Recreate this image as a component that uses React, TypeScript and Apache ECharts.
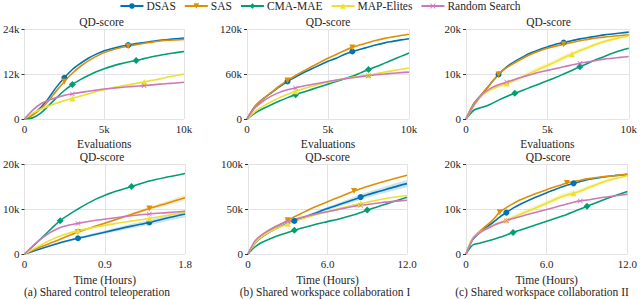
import React, { useEffect, useRef } from 'react';
import * as echarts from 'echarts';

const NAMES = ['DSAS', 'SAS', 'CMA-MAE', 'MAP-Elites', 'Random Search'];
const COLORS = ['#0173b2', '#de8f05', '#029e73', '#ece133', '#cc78bc'];
const BAND_COLORS = ['rgba(1,115,178,0.2)', 'rgba(222,143,5,0.2)', 'rgba(2,158,115,0.2)', 'rgba(236,225,51,0.28)', 'rgba(204,120,188,0.2)'];
const SYMBOLS = [
  'circle',
  'path://M0,0L10,0L5,9Z',
  'path://M5,0L10,5L5,10L0,5Z',
  'triangle',
  'path://M1,0L5,4L9,0L10,1L6,5L10,9L9,10L5,6L1,10L0,9L4,5L0,1Z',
];
const SYMBOL_SIZES = [6, 6, 7, 6, 5];

// ---------- Top row: x in thousands of evaluations ----------
const evalsK = [0, 0.5, 1, 1.5, 2, 2.5, 3, 3.5, 4, 4.5, 5, 5.5, 6, 6.5, 7, 7.5, 8, 8.5, 9, 9.5, 10];

// (a) top, QD-score in k
const dsasA1 = [0, 1.2, 3.0, 5.5, 8.5, 11.0, 13.2, 14.8, 16.2, 17.3, 18.2, 18.8, 19.3, 19.7, 20.1, 20.4, 20.7, 21.0, 21.2, 21.4, 21.6];
const sasA1 = [0, 1.0, 2.6, 4.8, 7.5, 10.0, 12.2, 14.0, 15.5, 16.7, 17.7, 18.4, 19.0, 19.4, 19.8, 20.2, 20.5, 20.8, 21.0, 21.1, 21.2];
const cmaA1 = [0, 0.3, 1.5, 3.5, 5.6, 7.6, 9.2, 10.5, 11.6, 12.6, 13.4, 14.1, 14.7, 15.2, 15.6, 16.1, 16.6, 17.0, 17.4, 17.7, 18.0];
const mapA1 = [0, 1.5, 2.6, 3.4, 4.2, 4.9, 5.5, 6.1, 6.7, 7.3, 7.8, 8.3, 8.7, 9.1, 9.5, 9.9, 10.3, 10.7, 11.2, 11.6, 12.0];
const rndA1 = [0, 2.3, 4.0, 5.0, 5.7, 6.3, 6.7, 7.1, 7.4, 7.7, 8.0, 8.2, 8.4, 8.6, 8.75, 8.9, 9.1, 9.3, 9.45, 9.6, 9.8];
const marksA1 = [[2.5, 6.5], [2.5, 6.5], [3, 7], [3, 7.5], [3, 7.5]];

// (b) top
const dsasB1 = [0, 17, 27, 35, 43, 50, 56, 62, 67, 72, 77, 81, 86, 90, 93, 96, 99, 101.5, 103.5, 105.5, 107];
const sasB1 = [0, 17, 27, 35.5, 44, 51.5, 58, 64, 70, 75.5, 81, 86, 91, 95.5, 99, 102, 105, 107.5, 109.5, 111.3, 113];
const cmaB1 = [0, 8, 14, 19, 24, 28.5, 32.5, 36, 39.5, 43, 46.5, 50, 53.5, 57, 61.5, 66, 70, 74.5, 79, 83.5, 88];
const mapB1 = [0, 10, 17, 23, 28.5, 33, 37, 40.5, 43.5, 46.5, 49, 51.5, 53.5, 55.5, 57, 58.5, 60.5, 62.5, 64.5, 66.3, 68];
const rndB1 = [0, 15, 24, 30.5, 35.5, 39, 41.5, 44, 46, 48, 50, 52, 53.5, 55, 56.5, 57.8, 59, 60, 61, 61.8, 62.5];
const marksB1 = [[2.5, 6.5], [2.5, 6.5], [3, 7.5], [3, 7.5], [3, 7.5]];

// (c) top
const dsasC1 = [0, 3.5, 5.6, 7.8, 9.9, 11.6, 12.8, 13.8, 14.7, 15.4, 16.0, 16.6, 17.0, 17.4, 17.8, 18.1, 18.4, 18.7, 18.9, 19.1, 19.3];
const sasC1 = [0, 3.5, 5.6, 7.8, 9.9, 11.4, 12.5, 13.5, 14.4, 15.1, 15.7, 16.2, 16.6, 17.0, 17.4, 17.7, 18.0, 18.2, 18.4, 18.55, 18.7];
const cmaC1 = [0, 2.0, 2.6, 3.3, 4.2, 5.0, 5.7, 6.4, 7.1, 7.8, 8.5, 9.2, 10.0, 10.8, 11.6, 12.4, 13.2, 13.9, 14.6, 15.2, 15.7];
const mapC1 = [0, 3.0, 5.3, 6.5, 7.3, 7.9, 8.6, 9.4, 10.3, 11.1, 11.9, 12.7, 13.6, 14.4, 15.2, 15.9, 16.6, 17.2, 17.7, 18.1, 18.5];
const rndC1 = [0, 3.2, 5.5, 6.8, 7.6, 8.2, 8.8, 9.4, 9.9, 10.4, 10.8, 11.2, 11.6, 12.0, 12.4, 12.7, 13.0, 13.3, 13.5, 13.7, 13.9];
const marksC1 = [[2, 6], [2, 6], [3, 7], [2.5, 6.5], [2.5, 7]];
const mapC1Spread = [0, 0.2, 0.3, 0.35, 0.4, 0.45, 0.5, 0.55, 0.6, 0.6, 0.6, 0.6, 0.6, 0.55, 0.5, 0.45, 0.4, 0.4, 0.35, 0.3, 0.3];

// ---------- Bottom row: x in hours ----------
const hoursA = [0, 0.2, 0.4, 0.6, 0.8, 1.0, 1.2, 1.4, 1.6, 1.8];
const dsasA2 = [0, 1.3, 2.5, 3.5, 4.4, 5.3, 6.2, 7.0, 8.0, 8.9];
const sasA2 = [0, 1.7, 3.3, 4.9, 6.2, 7.5, 8.8, 10.1, 11.3, 12.5];
const cmaA2 = [0, 3.7, 7.4, 10.0, 12.2, 13.8, 15.0, 16.2, 17.1, 17.9];
const mapA2 = [0, 2.2, 4.0, 5.2, 6.0, 6.7, 7.3, 7.9, 8.6, 9.3];
const rndA2 = [0, 3.6, 5.9, 6.8, 7.5, 8.0, 8.5, 8.9, 9.2, 9.5];
const marksA2 = [[0.6, 1.4], [0.6, 1.4], [0.4, 1.2], [0.6, 1.4], [0.6, 1.4]];
const dsasA2Spread = [0, 0.1, 0.2, 0.3, 0.35, 0.4, 0.5, 0.55, 0.65, 0.75];
const sasA2Spread = [0, 0.1, 0.15, 0.2, 0.25, 0.3, 0.35, 0.4, 0.5, 0.6];

const hoursB = [0, 0.5, 1, 2, 3, 3.5, 4, 5, 6, 7, 8, 8.5, 9, 10, 11, 12];
const dsasB2 = [0, 11.5, 18.5, 27.5, 34, 36.7, 39.5, 45, 50.5, 55.5, 60.5, 63.2, 65.8, 70, 74.3, 78.2];
const sasB2 = [0, 12, 19, 29, 37.5, 41.3, 45, 52, 58, 64, 70, 72.5, 75, 79.5, 83.5, 87.5];
const cmaB2 = [0, 7.5, 12.5, 19, 24, 26.3, 28.5, 32.5, 36, 39.5, 43.5, 46, 48.8, 53.5, 58.3, 63.1];
const mapB2 = [0, 12, 19, 27.5, 33.5, 36, 38.5, 43, 47, 51, 54.5, 56, 57.5, 60.5, 63, 65];
const rndB2 = [0, 14, 21, 30, 36, 38.5, 40.5, 44, 47, 50, 53, 54, 55, 57, 58.5, 59.8];
const marksB2 = [[3.5, 8.5], [3, 8], [3.5, 9], [3, 8.5], [3, 8.5]];
const dsasB2Spread = [0, 0.3, 0.5, 0.8, 1, 1.1, 1.3, 1.6, 2, 2.3, 2.7, 2.9, 3.1, 3.4, 3.7, 4];

const hoursC = [0, 0.5, 1, 2, 2.5, 3, 3.5, 4, 5, 6, 7, 7.5, 8, 8.5, 9, 10, 11, 12];
const dsasC2 = [0, 3.2, 4.7, 7.0, 8.2, 9.2, 10.2, 11.0, 12.4, 13.6, 14.8, 15.3, 15.7, 16.1, 16.5, 17.0, 17.4, 17.7];
const sasC2 = [0, 3.5, 5.0, 7.6, 9.3, 10.3, 11.2, 12.0, 13.2, 14.3, 15.3, 15.8, 16.1, 16.4, 16.7, 17.1, 17.4, 17.7];
const cmaC2 = [0, 2.0, 2.4, 3.2, 3.7, 4.2, 4.8, 5.3, 6.3, 7.3, 8.3, 8.8, 9.4, 10.0, 10.6, 11.8, 12.9, 13.9];
const mapC2 = [0, 3.5, 4.8, 6.3, 7.0, 7.5, 8.1, 8.8, 10.0, 11.3, 12.6, 13.1, 13.5, 14.0, 14.6, 15.8, 16.7, 17.4];
const rndC2 = [0, 3.3, 4.7, 6.3, 6.9, 7.4, 7.9, 8.3, 9.1, 9.9, 10.7, 11.1, 11.5, 11.8, 12.0, 12.5, 12.9, 13.3];
const marksC2 = [[3, 8], [2.5, 7.5], [3.5, 9], [3, 8], [3, 8.5]];
const mapC2Spread = [0, 0.2, 0.3, 0.4, 0.4, 0.45, 0.5, 0.5, 0.55, 0.6, 0.6, 0.6, 0.6, 0.55, 0.5, 0.45, 0.4, 0.35];

const CAPTIONS = ['(a) Shared control teleoperation', '(b) Shared workspace collaboration I', '(c) Shared workspace collaboration II'];

const FONT = '"Liberation Serif", "Times New Roman", serif';
const TEXT_COLOR = '#262626';

const fmtK = (v: number) => (v === 0 ? '0' : `${v}k`);
const fmtH = (v: number) => (v === 0 ? '0' : v.toFixed(1));

type Panel = {
  grid: { left: number; top: number; width: number; height: number };
  x: number[];
  ys: number[][];
  marks: number[][];
  bands: { idx: number; spread: number[] }[];
  xMax: number; xInt: number; yMax: number; yInt: number;
  xName: string; xFmt: (v: number) => string;
};

const panels: Panel[] = [
  { grid: { left: 19, top: 29, width: 165, height: 90 }, x: evalsK, ys: [dsasA1, sasA1, cmaA1, mapA1, rndA1], marks: marksA1, bands: [], xMax: 10, xInt: 5, yMax: 24, yInt: 12, xName: 'Evaluations', xFmt: fmtK },
  { grid: { left: 247, top: 29, width: 162, height: 90 }, x: evalsK, ys: [dsasB1, sasB1, cmaB1, mapB1, rndB1], marks: marksB1, bands: [], xMax: 10, xInt: 5, yMax: 120, yInt: 60, xName: 'Evaluations', xFmt: fmtK },
  { grid: { left: 466, top: 29, width: 165, height: 90 }, x: evalsK, ys: [dsasC1, sasC1, cmaC1, mapC1, rndC1], marks: marksC1, bands: [{ idx: 3, spread: mapC1Spread }], xMax: 10, xInt: 5, yMax: 20, yInt: 10, xName: 'Evaluations', xFmt: fmtK },
  { grid: { left: 19, top: 164, width: 166, height: 90 }, x: hoursA, ys: [dsasA2, sasA2, cmaA2, mapA2, rndA2], marks: marksA2, bands: [{ idx: 0, spread: dsasA2Spread }, { idx: 1, spread: sasA2Spread }], xMax: 1.8, xInt: 0.9, yMax: 20, yInt: 10, xName: 'Time (Hours)', xFmt: fmtH },
  { grid: { left: 248, top: 164, width: 159, height: 90 }, x: hoursB, ys: [dsasB2, sasB2, cmaB2, mapB2, rndB2], marks: marksB2, bands: [{ idx: 0, spread: dsasB2Spread }], xMax: 12, xInt: 6, yMax: 100, yInt: 50, xName: 'Time (Hours)', xFmt: fmtH },
  { grid: { left: 466, top: 164, width: 164, height: 90 }, x: hoursC, ys: [dsasC2, sasC2, cmaC2, mapC2, rndC2], marks: marksC2, bands: [{ idx: 3, spread: mapC2Spread }], xMax: 12, xInt: 6, yMax: 20, yInt: 10, xName: 'Time (Hours)', xFmt: fmtH },
];

function buildOption() {
  const grid = panels.map((p) => ({ ...p.grid, containLabel: false }));
  const xAxis = panels.map((p, i) => ({
    type: 'value', gridIndex: i, min: 0, max: p.xMax, interval: p.xInt,
    name: p.xName, nameLocation: 'middle', nameGap: i < 3 ? 19 : 20,
    nameTextStyle: { fontFamily: FONT, fontSize: 11.5, color: TEXT_COLOR },
    axisLine: { show: false }, axisTick: { show: false },
    axisLabel: { formatter: p.xFmt, margin: 4, fontFamily: FONT, fontSize: 11, color: TEXT_COLOR, showMinLabel: true, showMaxLabel: true },
    splitLine: { show: true, lineStyle: { color: '#e3e3e3', width: 1 } },
  }));
  const yAxis = panels.map((p, i) => ({
    type: 'value', gridIndex: i, min: 0, max: p.yMax, interval: p.yInt,
    axisLine: { show: false },
    axisTick: { show: true, length: 3, lineStyle: { color: '#333', width: 1 } },
    axisLabel: { formatter: fmtK, margin: 5, fontFamily: FONT, fontSize: 11, color: TEXT_COLOR },
    splitLine: { show: true, lineStyle: { color: '#e3e3e3', width: 1 } },
  }));
  const series: any[] = [];
  panels.forEach((p, i) => {
    p.bands.forEach((b) => {
      const ys = p.ys[b.idx];
      series.push({
        type: 'custom', name: `band-${i}-${b.idx}`, xAxisIndex: i, yAxisIndex: i,
        silent: true, z: 1, data: [[0, 0]],
        renderItem: (_params: any, api: any) => {
          const up = p.x.map((xv, k) => api.coord([xv, ys[k] + b.spread[k]]));
          const lo = p.x.map((xv, k) => api.coord([xv, ys[k] - b.spread[k]])).reverse();
          return { type: 'polygon', shape: { points: up.concat(lo) }, style: { fill: BAND_COLORS[b.idx] } };
        },
      });
    });
    p.ys.forEach((ys, j) => {
      series.push({
        type: 'line', name: NAMES[j], xAxisIndex: i, yAxisIndex: i,
        color: COLORS[j],
        symbol: SYMBOLS[j], symbolSize: SYMBOL_SIZES[j], showSymbol: true, showAllSymbol: true,
        smooth: 0.3,
        lineStyle: { width: 1.6, color: COLORS[j] },
        itemStyle: { color: COLORS[j] },
        data: p.x.map((xv, k) => ({
          value: [xv, ys[k]],
          symbol: p.marks[j].includes(xv) ? SYMBOLS[j] : 'none',
          symbolSize: SYMBOL_SIZES[j],
        })),
        z: 2,
      });
    });
  });

  const graphics: any[] = [];
  panels.forEach((p) => {
    const cx = p.grid.left + p.grid.width / 2;
    graphics.push({
      type: 'text', x: cx, y: p.grid.top - 7,
      style: { text: 'QD-score', textAlign: 'center', textVerticalAlign: 'middle', font: `11.5px ${FONT}`, fill: TEXT_COLOR },
    });
  });
  const capX = [97, 325, 542];
  CAPTIONS.forEach((c, i) => {
    graphics.push({
      type: 'text', x: capX[i], y: 292,
      style: { text: c, textAlign: 'center', textVerticalAlign: 'middle', font: `11.5px ${FONT}`, fill: TEXT_COLOR },
    });
  });

  return {
    animation: false,
    backgroundColor: '#ffffff',
    textStyle: { fontFamily: FONT },
    legend: {
      data: NAMES, top: 0, left: 'center', padding: 0, itemGap: 8, itemWidth: 23, itemHeight: 7,
      textStyle: { fontFamily: FONT, fontSize: 11.5, color: TEXT_COLOR, padding: [0, 0, 0, -2] },
    },
    grid, xAxis, yAxis, series, graphic: graphics,
  };
}

export default function App() {
  const ref = useRef<HTMLDivElement>(null);
  useEffect(() => {
    if (!ref.current) return;
    const chart = echarts.init(ref.current, undefined, { renderer: 'svg' });
    chart.setOption(buildOption() as any);
    return () => chart.dispose();
  }, []);
  return <div ref={ref} style={{ position: 'absolute', left: 0, top: 0, width: 640, height: 299, background: '#fff' }} />;
}
